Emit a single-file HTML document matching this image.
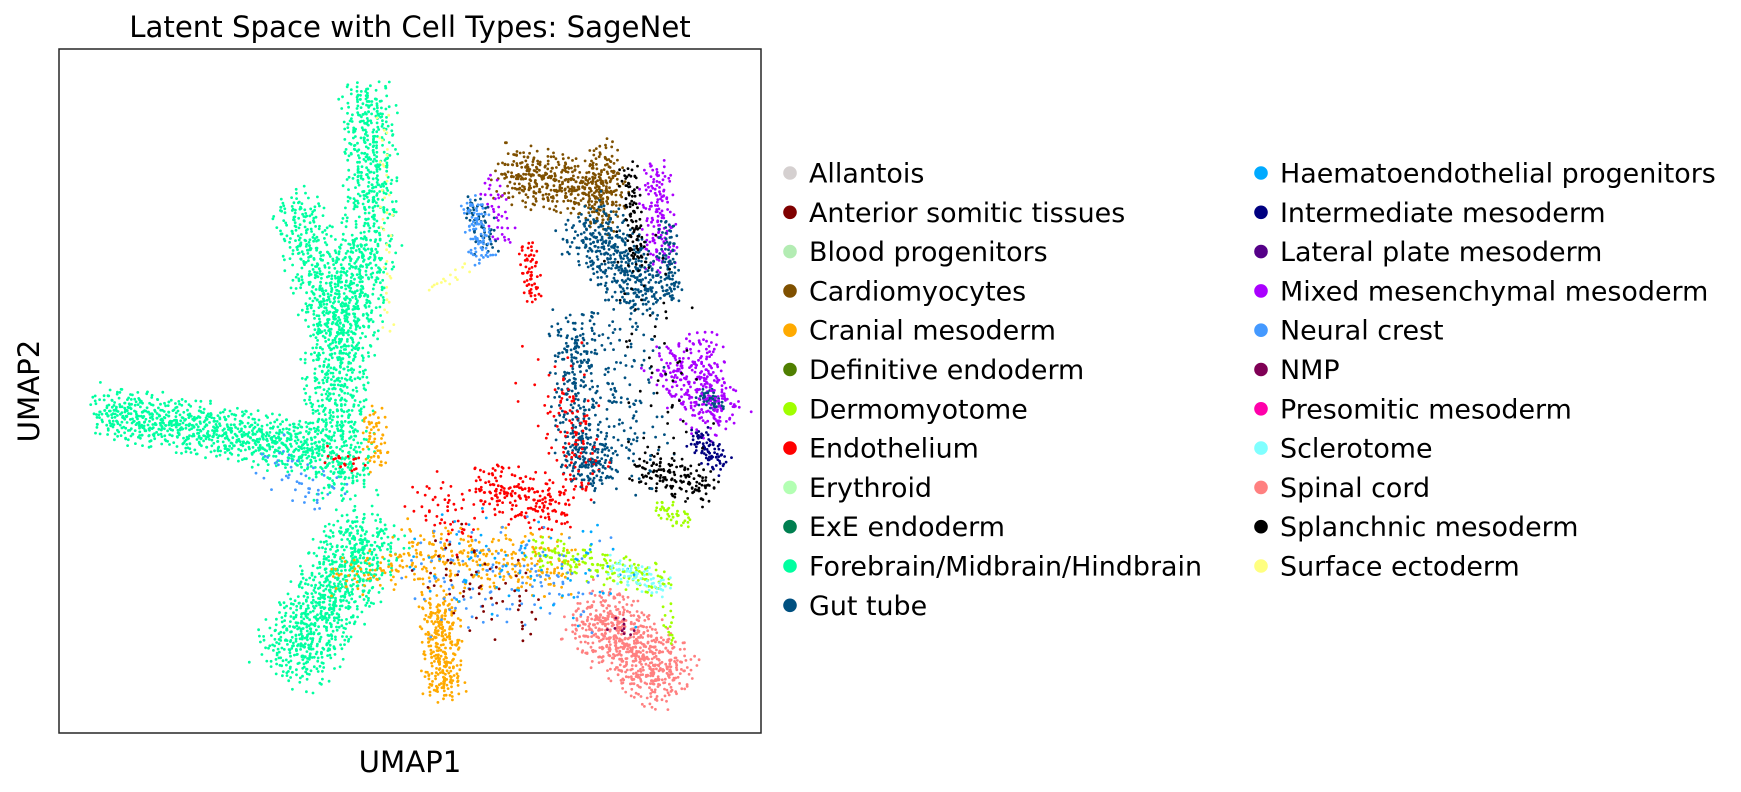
<!DOCTYPE html>
<html><head><meta charset="utf-8"><style>
html,body{margin:0;padding:0;background:#fff;}
svg{display:block;font-family:"DejaVu Sans","Liberation Sans",sans-serif;}
</style></head><body>
<svg id="chart" width="1741" height="792" viewBox="0 0 1741 792" xmlns="http://www.w3.org/2000/svg">
<text x="410" y="37" font-size="29.2" text-anchor="middle" fill="#000">Latent Space with Cell Types: SageNet</text>
<g id="points"></g>
<rect x="59" y="49" width="702" height="684" fill="none" stroke="#262626" stroke-width="1.5"/>
<text x="410" y="772" font-size="29.2" text-anchor="middle">UMAP1</text>
<text x="39" y="391" font-size="29.2" text-anchor="middle" transform="rotate(-90 39 391)">UMAP2</text>
<g id="legend"></g>
</svg>
<script>
// Cell type categories and colours
const cellTypes = ["Allantois","Anterior somitic tissues","Blood progenitors","Cardiomyocytes","Cranial mesoderm","Definitive endoderm","Dermomyotome","Endothelium","Erythroid","ExE endoderm","Forebrain/Midbrain/Hindbrain","Gut tube","Haematoendothelial progenitors","Intermediate mesoderm","Lateral plate mesoderm","Mixed mesenchymal mesoderm","Neural crest","NMP","Presomitic mesoderm","Sclerotome","Spinal cord","Splanchnic mesoderm","Surface ectoderm"];
const typeColors = ["#d5d0d0","#7f0000","#b3ecb3","#7f5000","#ffaa00","#4f7f00","#a0ff00","#ff0000","#b3ffb3","#007f50","#00ffa0","#005080","#00aaff","#000080","#550088","#aa00ff","#4499ff","#7f0055","#ff00aa","#80ffff","#ff8080","#000000","#ffff80"];
// Cluster segments in UMAP units (type index, start, end, width, count)
const clusterType = [10,10,10,10,10,10,20,3,3,15,15,15,11,11,11,11,11,11,21,21,13,7,7,7,7,7,4,4,4,4,6,6,6,16,16,16,12,19,1,22,22,17,11,15,7,21];
const clusterU1a = [3.7,27.7,21.2,27.7,24.7,28.2,47.7,40.2,49.2,53.7,54.7,38.7,47.2,46.2,46.7,37.2,54.7,57.7,51.2,52.2,57.2,42.2,37.7,32.7,45.7,24.2,34.2,30.7,28.2,24.7,42.7,53.7,54.7,37.2,32.7,18.7,32.7,49.7,33.7,29.2,33.2,49.7,49.2,57.7,43.7,51.7];
const clusterU2a = [29.0,58.0,48.0,45.0,32.0,18.5,11.0,50.5,53.0,51.0,34.0,50.0,46.0,37.0,26.0,48.0,46.0,30.5,51.0,24.0,27.0,44.0,22.5,22.0,31.0,25.0,12.0,16.0,29.0,14.0,16.5,20.5,11.5,48.0,14.0,25.0,16.0,15.0,16.0,56.0,40.0,10.0,38.0,36.0,34.0,45.0];
const clusterU1b = [23.7,28.2,24.7,24.7,25.7,20.7,55.2,50.2,48.7,54.2,59.7,40.2,53.7,46.7,48.7,38.7,55.2,59.7,52.2,58.7,59.7,42.7,45.7,36.7,47.2,27.2,34.7,45.7,28.7,30.7,54.7,56.7,55.2,38.2,47.7,24.7,50.7,54.7,42.7,29.7,37.2,51.7,50.7,59.7,47.7,55.7];
const clusterU2b = [25.5,46.0,36.0,32.0,22.0,6.0,4.5,48.5,45.5,42.0,28.0,44.0,39.0,26.0,23.0,43.5,39.0,29.5,42.0,22.0,24.0,39.0,20.0,18.0,22.0,24.0,3.5,15.0,24.0,15.0,13.5,19.0,8.0,42.5,14.0,21.0,14.0,13.0,10.0,36.0,42.0,9.0,23.0,29.0,22.0,25.0];
const clusterWidth = [4,4,4,5,5,6,5.5,4.5,2.5,2.5,4.5,2,5,3.5,4,2,1.5,1.5,1.5,3,2,1.5,4,4,3,1.5,3,5,2,3,2.5,1.5,1,2,8,4,8,2,6,1,1,2,8,3,6,6];
const clusterCount = [900,400,350,600,400,900,700,450,100,150,250,40,450,200,150,60,80,40,100,150,80,60,220,50,60,20,300,300,60,60,170,40,15,90,120,50,80,70,60,40,15,10,200,80,50,60];

const X0=59,X1=761,Y0=733,Y1=49,UMIN=0,UMAX=63.2,VMIN=0,VMAX=61.6;
function xScale(u){return X0+(u-UMIN)/(UMAX-UMIN)*(X1-X0);}
function yScale(v){return Y0-(v-VMIN)/(VMAX-VMIN)*(Y0-Y1);}
function halton(i,b){let f=1,r=0;while(i>0){f/=b;r+=f*(i%b);i=Math.floor(i/b);}return r;}

const NS="http://www.w3.org/2000/svg";
const pg=document.getElementById("points");
let idx=1;
for(let c=0;c<clusterType.length;c++){
  const ax=clusterU1a[c],ay=clusterU2a[c],bx=clusterU1b[c],by=clusterU2b[c];
  const dx=bx-ax,dy=by-ay,L=Math.hypot(dx,dy)||1;
  const nx=-dy/L,ny=dx/L;
  const col=typeColors[clusterType[c]];
  for(let k=0;k<clusterCount[c];k++){
    const t=halton(idx,2),s=(halton(idx,3)+halton(idx,5)-1);
    const e=(halton(idx,7)-0.5)*clusterWidth[c]*0.6;
    idx++;
    const u=ax+dx*t+nx*s*clusterWidth[c]*0.7+dx/L*e;
    const v=ay+dy*t+ny*s*clusterWidth[c]*0.7+dy/L*e;
    const p=document.createElementNS(NS,"circle");
    
    
    p.setAttribute("cx",xScale(u).toFixed(1));
    p.setAttribute("cy",yScale(v).toFixed(1));
    p.setAttribute("r","1.4");
    p.setAttribute("fill",col);
    pg.appendChild(p);
  }
}
// legend
const lg=document.getElementById("legend");
cellTypes.forEach((name,i)=>{
  const col=i<12?0:1,row=i<12?i:i-12;
  const x=col?1261:790,y=173+row*39.3;
  const g=document.createElementNS(NS,"g");
  
  
  const d=document.createElementNS(NS,"circle");
  
  
  d.setAttribute("cx",x);d.setAttribute("cy",y);d.setAttribute("r","6.8");d.setAttribute("fill",typeColors[i]);
  const t=document.createElementNS(NS,"text");
  
  
  t.setAttribute("x",x+19);t.setAttribute("y",y+9.5);t.setAttribute("font-size","26.9");
  t.textContent=name;
  g.appendChild(d);g.appendChild(t);lg.appendChild(g);
});
</script>
</body></html>
